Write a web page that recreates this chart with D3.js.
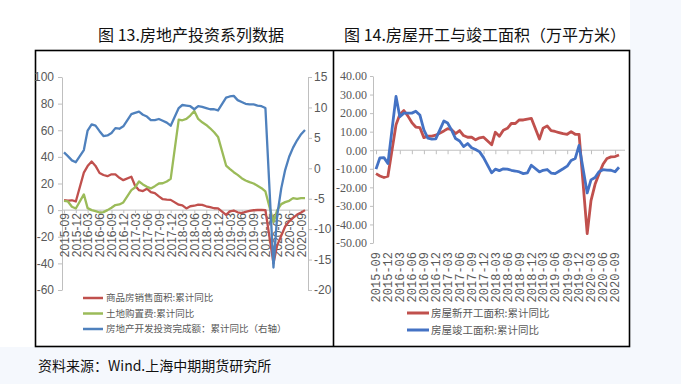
<!DOCTYPE html>
<html>
<head>
<meta charset="utf-8">
<script src="https://cdn.jsdelivr.net/npm/d3@7"></script>
<style>
  html, body { margin: 0; padding: 0; background: #f5f8fd; }
  svg { display: block; }
</style>
</head>
<body>
<div id="chart"></div>
<script>
// months with data (no January figures: Jan-Feb reported together)
var months = [
  "2015-09","2015-10","2015-11","2015-12",
  "2016-02","2016-03","2016-04","2016-05","2016-06","2016-07","2016-08","2016-09","2016-10","2016-11","2016-12",
  "2017-02","2017-03","2017-04","2017-05","2017-06","2017-07","2017-08","2017-09","2017-10","2017-11","2017-12",
  "2018-02","2018-03","2018-04","2018-05","2018-06","2018-07","2018-08","2018-09","2018-10","2018-11","2018-12",
  "2019-02","2019-03","2019-04","2019-05","2019-06","2019-07","2019-08","2019-09","2019-10","2019-11","2019-12",
  "2020-02","2020-03","2020-04","2020-05","2020-06","2020-07","2020-08","2020-09","2020-10"
];

var tickLabels = [
  "2015-09","2015-12","2016-03","2016-06","2016-09","2016-12","2017-03","2017-06","2017-09","2017-12",
  "2018-03","2018-06","2018-09","2018-12","2019-03","2019-06","2019-09","2019-12","2020-03","2020-06","2020-09"
];

// 图13
var salesArea = [
  7.5, 7.2, 7.4, 6.5,
  28.2, 33.1, 36.5, 33.2, 27.9, 26.4, 25.5, 26.9, 26.8, 24.3, 22.5,
  25.1, 18.5, 15.0, 14.3, 16.1, 13.5, 12.7, 10.3, 8.2, 7.9, 7.7,
  4.1, 3.6, 1.3, 2.9, 3.3, 4.2, 4.0, 2.9, 2.2, 1.4, 1.3,
  -3.6, -0.9, -0.3, -1.6, -2.2, -1.3, -0.6, -0.1, 0.1, 0.2, -0.1,
  -39.9, -26.3, -19.3, -12.3, -8.4, -5.8, -3.3, -1.8, 0.0
];
var landCost = [
  7.0, 6.5, 2.5, 1.2,
  11.8, 1.5, 0.0, -0.8, -1.8, -1.5, 0.0, 1.8, 3.8, 4.3, 5.8,
  15.0, 17.0, 21.5, 19.3, 17.5, 16.3, 18.0, 20.0, 20.2, 21.5, 23.5,
  68.0, 67.5, 68.5, 71.0, 74.5, 68.5, 66.0, 64.0, 61.5, 58.5, 55.0,
  33.5, 31.0, 28.5, 26.5, 24.0, 22.3, 21.0, 20.0, 18.3, 16.5, 14.0,
  -9.0, 0.0, 4.5, 6.0, 7.0, 9.0, 8.5, 9.0, 9.0
];
var devInvest = [
  2.6, 2.0, 1.3, 1.0,
  3.0, 6.2, 7.2, 7.0, 6.1, 5.3, 5.4, 5.8, 6.6, 6.5, 6.9,
  8.9, 9.1, 9.3, 8.8, 8.5, 7.9, 7.9, 8.1, 7.8, 7.5, 7.0,
  9.9, 10.4, 10.3, 10.2, 9.7, 10.2, 10.1, 9.9, 9.7, 9.7, 9.5,
  11.6, 11.8, 11.9, 11.2, 10.9, 10.6, 10.5, 10.5, 10.3, 10.2, 9.9,
  -16.3, -7.7, -3.3, -0.3, 1.9, 3.4, 4.6, 5.6, 6.3
];

// 图14
var newStarts = [
  -12.6, -13.9, -14.7, -14.0,
  13.7, 19.2, 21.4, 18.5, 14.9, 12.5, 12.2, 6.8, 7.6, 7.6, 8.1,
  10.4, 11.6, 11.1, 9.0, 10.6, 7.9, 7.0, 7.0, 5.6, 6.7, 7.0,
  2.9, 9.7, 7.5, 10.8, 11.8, 14.4, 14.4, 16.4, 16.3, 16.8, 17.2,
  6.0, 11.9, 13.1, 10.5, 10.1, 9.5, 8.9, 8.6, 10.0, 8.6, 8.5,
  -44.9, -27.2, -18.4, -12.8, -7.6, -4.5, -3.6, -3.4, -2.6
];
var completions = [
  -10.2, -4.1, -4.0, -7.2,
  29.0, 18.0, 20.0, 20.0, 20.0, 21.0, 19.0, 11.0, 6.5, 6.0, 6.1,
  15.8, 14.7, 10.8, 6.3, 5.0, 2.0, 3.6, 1.3, 0.4, -0.9, -4.0,
  -12.2, -10.2, -11.0, -10.0, -10.2, -10.8, -11.2, -11.7, -12.6, -12.2, -8.1,
  -11.7, -10.8, -10.4, -12.3, -12.6, -11.3, -10.0, -8.6, -5.5, -4.5, 2.6,
  -23.0, -16.0, -14.7, -11.6, -10.5, -10.7, -10.8, -11.6, -9.2
];

var leftTicks = [100, 80, 60, 40, 20, 0, -20, -40, -60];
var rightTicks = [15, 10, 5, 0, -5, -10, -15, -20];
var r2Ticks = [40, 30, 20, 10, 0, -10, -20, -30, -40, -50];

var names13 = ["商品房销售面积:累计同比", "土地购置费:累计同比", "房地产开发投资完成额：累计同比（右轴）"];
var names14 = ["房屋新开工面积:累计同比", "房屋竣工面积:累计同比"];

var width = 681, height = 384;
var parse = d3.timeParse("%Y-%m");
var dates = months.map(parse);

var svg = d3.select("#chart").append("svg")
  .attr("width", width)
  .attr("height", height);

svg.append("rect").attr("width", width).attr("height", height).attr("fill", "#f5f8fd");
svg.append("rect").attr("width", 630).attr("height", 347).attr("fill", "#ffffff");

// frame
svg.append("rect")
  .attr("x", 35.5).attr("y", 50.5).attr("width", 594).attr("height", 296)
  .attr("fill", "none").attr("stroke", "#000").attr("stroke-width", 1.6);
svg.append("line")
  .attr("x1", 333.5).attr("x2", 333.5).attr("y1", 50).attr("y2", 347)
  .attr("stroke", "#000").attr("stroke-width", 1.6);

// titles
var cjk = "'Noto Sans CJK SC', 'Noto Sans', sans-serif";
svg.append("text").attr("x", 191).attr("y", 41).attr("text-anchor", "middle")
  .style("font-family", cjk).style("font-size", "16px").attr("fill", "#111")
  .text("图 13.房地产投资系列数据");
svg.append("text").attr("x", 485).attr("y", 41).attr("text-anchor", "middle")
  .style("font-family", cjk).style("font-size", "16px").attr("fill", "#111")
  .text("图 14.房屋开工与竣工面积（万平方米）");
svg.append("text").attr("x", 38).attr("y", 371)
  .style("font-family", cjk).style("font-size", "14px").attr("fill", "#111")
  .text("资料来源：Wind.上海中期期货研究所");

var axisColor = "#bfbfbf";
var labelColor = "#595959";

function styleAxis(g, font, size) {
  g.select(".domain").attr("stroke", axisColor);
  g.selectAll(".tick line").attr("stroke", axisColor);
  g.selectAll(".tick text").attr("fill", labelColor)
    .style("font-family", font).style("font-size", size);
}

function drawLine(g, x, y, values, color, w) {
  var line = d3.line()
    .x(function(d, i) { return x(dates[i]); })
    .y(function(d) { return y(d); });
  g.append("path")
    .datum(values)
    .attr("d", line)
    .attr("fill", "none")
    .attr("stroke", color)
    .attr("stroke-width", w)
    .attr("stroke-linejoin", "round");
}

// ---------- 图13 ----------
var p1 = {x0: 62, x1: 308, top: 77, bottom: 290};
var narrow = "'Liberation Sans Narrow', 'Arial Narrow', 'Liberation Sans', sans-serif";

var x1 = d3.scaleTime().domain([dates[0], dates[dates.length - 1]]).range([p1.x0 + 2, p1.x1 - 3]);
var yL = d3.scaleLinear().domain([-60, 100]).range([p1.bottom, p1.top]);
var yR = d3.scaleLinear().domain([-20, 15]).range([p1.bottom, p1.top]);

var g1 = svg.append("g");

g1.append("g").attr("transform", "translate(" + p1.x0 + ",0)")
  .call(d3.axisLeft(yL).tickValues(leftTicks).tickSize(4).tickSizeOuter(0).tickPadding(4).tickFormat(function(d) { return String(d); }))
  .call(styleAxis, narrow, "12px");

g1.append("g").attr("transform", "translate(" + p1.x1 + ",0)")
  .call(d3.axisRight(yR).tickValues(rightTicks).tickSize(4).tickSizeOuter(0).tickPadding(2).tickFormat(function(d) { return String(d); }))
  .call(styleAxis, narrow, "12px");

var xAx1 = g1.append("g").attr("transform", "translate(0," + yL(0) + ")")
  .call(d3.axisBottom(x1).tickValues(tickLabels.map(parse)).tickSize(3).tickSizeOuter(0).tickFormat(d3.timeFormat("%Y-%m")));
xAx1.select(".domain").attr("d", "M" + p1.x0 + ",0H" + p1.x1);
xAx1.call(styleAxis, "'Liberation Sans', sans-serif", "12px");
xAx1.selectAll(".tick text")
  .attr("transform", "rotate(-90)")
  .attr("text-anchor", "end")
  .attr("x", -3).attr("y", 0).attr("dy", "0.36em");

drawLine(g1, x1, yL, salesArea, "#c0504d", 2.3);
drawLine(g1, x1, yL, landCost, "#9bbb59", 2.3);
drawLine(g1, x1, yR, devInvest, "#4f81bd", 2.3);

var colors13 = ["#c0504d", "#9bbb59", "#4f81bd"];
var leg1 = g1.append("g").attr("transform", "translate(83,298)");
names13.forEach(function(n, i) {
  var row = leg1.append("g").attr("transform", "translate(0," + (i * 15.5) + ")");
  row.append("line").attr("x1", 0).attr("x2", 20).attr("stroke", colors13[i]).attr("stroke-width", 2.5);
  row.append("text").attr("x", 23).attr("dy", "0.35em")
    .style("font-family", cjk).style("font-size", "9.5px").attr("fill", labelColor).text(n);
});

// ---------- 图14 ----------
var p2 = {x0: 373, x1: 625, top: 76, bottom: 243};
var x2 = d3.scaleTime().domain([dates[0], dates[dates.length - 1]]).range([p2.x0 + 3, p2.x1 - 6]);
var y2 = d3.scaleLinear().domain([-50, 40]).range([p2.bottom, p2.top]);

var g2 = svg.append("g");
var serif = "'Liberation Serif', 'DejaVu Serif', serif";

g2.append("g").attr("transform", "translate(" + p2.x0 + ",0)")
  .call(d3.axisLeft(y2).tickValues(r2Ticks).tickSize(3).tickSizeOuter(0).tickPadding(3).tickFormat(function(d) { return d.toFixed(2); }))
  .call(styleAxis, serif, "12px");

var xAx2 = g2.append("g").attr("transform", "translate(0," + y2(0) + ")")
  .call(d3.axisBottom(x2).tickValues(tickLabels.map(parse)).tickSize(4).tickSizeOuter(0).tickFormat(""));
xAx2.select(".domain").attr("d", "M" + p2.x0 + ",0H" + p2.x1);
xAx2.call(styleAxis, serif, "12px");

g2.append("g").selectAll("text")
  .data(tickLabels)
  .join("text")
  .attr("transform", function(d) { return "translate(" + x2(parse(d)) + "," + (p2.bottom + 9) + ") rotate(-90)"; })
  .attr("text-anchor", "end")
  .attr("dy", "0.36em")
  .style("font-family", "'Liberation Mono', 'DejaVu Sans Mono', monospace")
  .style("font-size", "12px")
  .attr("fill", labelColor)
  .text(function(d) { return d; });

drawLine(g2, x2, y2, newStarts, "#c0504d", 2.8);
drawLine(g2, x2, y2, completions, "#4472c4", 2.8);

var colors14 = ["#c0504d", "#4472c4"];
var leg2 = g2.append("g").attr("transform", "translate(407,313)");
names14.forEach(function(n, i) {
  var row = leg2.append("g").attr("transform", "translate(0," + (i * 17) + ")");
  row.append("line").attr("x1", 0).attr("x2", 22).attr("stroke", colors14[i]).attr("stroke-width", 3);
  row.append("text").attr("x", 24).attr("dy", "0.35em")
    .style("font-family", cjk).style("font-size", "10.5px").attr("fill", labelColor).text(n);
});
</script>
</body>
</html>
